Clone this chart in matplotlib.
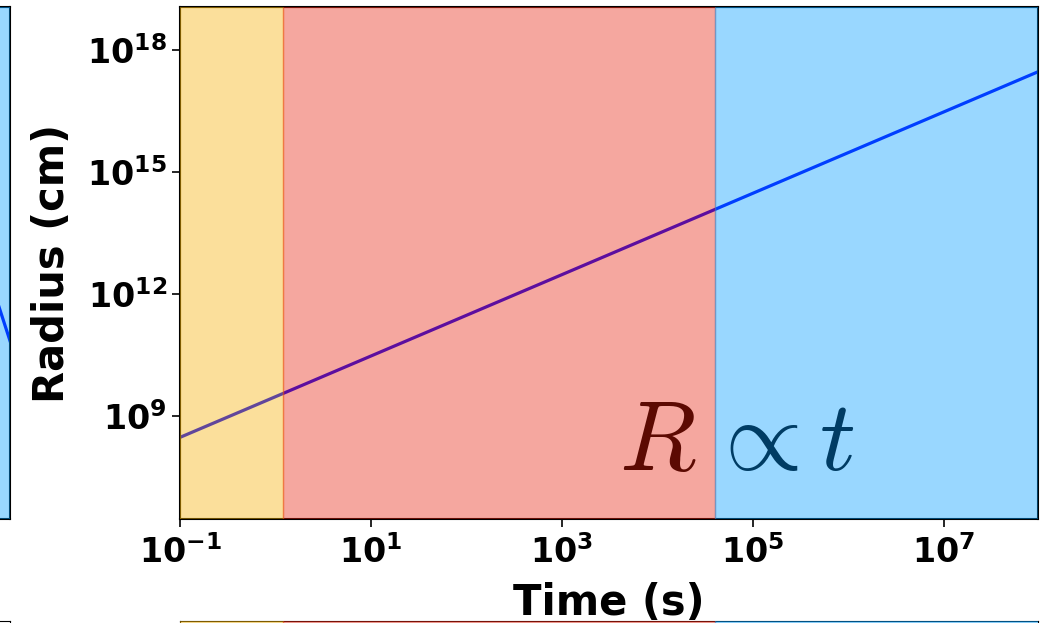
import numpy as np
import matplotlib
matplotlib.use("Agg")
import matplotlib.pyplot as plt

plt.rcParams['font.family'] = ['DejaVu Sans']
plt.rcParams['font.weight'] = 'bold'
plt.rcParams['axes.labelweight'] = 'bold'

# radius of the ejecta vs time, R ∝ t
time_s = [1e-1, 1.2, 4e4, 1e8]
radius_cm = [3.0e8, 3.6e9, 1.2e14, 3.0e17]

# phase boundaries (s)
phase_edges = [1e-1, 1.2, 4e4, 1e8]
phase_colors = ['#f5b105', '#e82511', '#029dff']

x_ticks = [1e-1, 1e1, 1e3, 1e5, 1e7]
y_ticks = [1e9, 1e12, 1e15, 1e18]

# neighbouring panel that is cut off at the left edge of the picture
left_x = [0.0, 0.5, 0.9, 1.0]
left_y = [0.2, 0.45, 0.535, 0.348]

W, H = 1044, 623
fig = plt.figure(figsize=(W / 100, H / 100), dpi=100)


def shade(ax):
    for i, c in enumerate(phase_colors):
        ax.axvspan(phase_edges[i], phase_edges[i + 1], color=c, alpha=0.4,
                   zorder=3, lw=1)


ax = fig.add_axes([180 / W, 1 - 519 / H, 858 / W, 512 / H])
ax.plot(time_s, radius_cm, color='#0000ff', lw=2.3, zorder=2)
shade(ax)
ax.set_xscale('log')
ax.set_yscale('log')
ax.set_xlim(1e-1, 10 ** 7.99)
ax.set_ylim(10 ** 6.47, 10 ** 19.06)
ax.set_xticks(x_ticks)
ax.set_yticks(y_ticks)
ax.minorticks_off()
ax.tick_params(labelsize=24, width=1.2, length=6)
ax.tick_params(axis='x', pad=6)
for lab in ax.get_xticklabels() + ax.get_yticklabels():
    lab.set_fontweight('bold')
for s in ax.spines.values():
    s.set_linewidth(1.5)
ax.set_xlabel('Time (s)', fontsize=30, labelpad=8)
ax.set_ylabel('Radius (cm)', fontsize=30, labelpad=10)

ax.text(10 ** 3.60, 10 ** 7.67, r'$R$', color='#5c0a02', fontsize=72,
        math_fontfamily='cm', ha='left', va='baseline', zorder=5)
ax.text(10 ** 4.52, 10 ** 7.67, r'$\propto t$', color='#003c64', fontsize=72,
        math_fontfamily='cm', ha='left', va='baseline', zorder=5)

# left neighbour (only its right edge shows)
axl = fig.add_axes([-300 / W, 1 - 519 / H, 310 / W, 512 / H])
axl.plot(left_x, left_y, color='#0000ff', lw=2.3, zorder=2)
axl.axvspan(0, 1, color=phase_colors[2], alpha=0.4, zorder=3, lw=1)
axl.set_xlim(0, 1)
axl.set_ylim(0, 1)
axl.set_xticks([])
axl.set_yticks([])
for s in axl.spines.values():
    s.set_linewidth(1.5)

# lower neighbours (only their top edges show)
axb = fig.add_axes([180 / W, 1 - 1133 / H, 858 / W, 512 / H])
shade(axb)
axb.set_xscale('log')
axb.set_xlim(1e-1, 10 ** 7.99)
axb.set_xticks([])
axb.set_yticks([])
axb.minorticks_off()

axbl = fig.add_axes([-300 / W, 1 - 1133 / H, 310 / W, 512 / H])
axbl.set_xticks([])
axbl.set_yticks([])

fig.savefig('out.png', dpi=100)
